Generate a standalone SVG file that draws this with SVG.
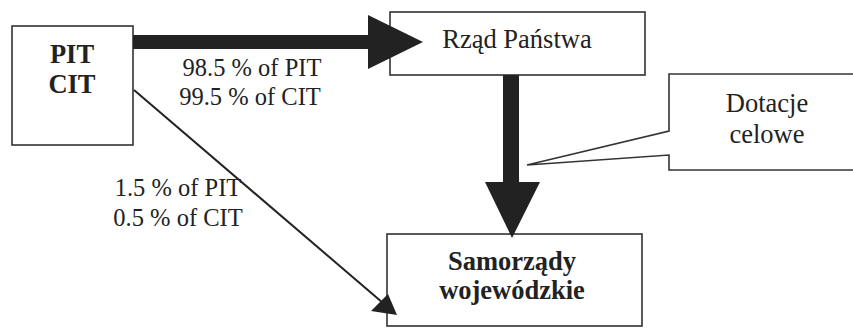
<svg xmlns="http://www.w3.org/2000/svg" width="853" height="328" viewBox="0 0 853 328">
<style>
.box{fill:#fff;stroke:#333;stroke-width:1.6}
text{font-family:'Liberation Serif','Times New Roman',serif;fill:#222;text-anchor:middle}
.n{font-size:26.5px}
.b{font-weight:bold;font-size:26.5px}
.l{font-size:24.5px}
.arr{fill:#222}
</style>
<rect width="853" height="328" fill="#fff"/>
<g id="pitcit">
<rect class="box" x="12" y="26" width="121" height="119"/>
<text class="b" x="72" y="63">PIT</text>
<text class="b" x="72" y="93">CIT</text>
</g>
<g id="rzad">
<rect class="box" x="390" y="12" width="255" height="63"/>
<text class="n" x="517" y="48">Rząd Państwa</text>
</g>
<g id="samorzady">
<rect class="box" x="387" y="234" width="255" height="92"/>
<text class="b" x="512" y="270">Samorządy</text>
<text class="b" x="512" y="299">wojewódzkie</text>
</g>
<g id="dotacje">
<path d="M853 74 L669 74 L669 131 L527 165 L669 155 L669 170 L853 170" fill="#fff" stroke="#333" stroke-width="1.6"/>
<text class="n" x="767" y="112">Dotacje</text>
<text class="n" x="767" y="143">celowe</text>
</g>
<g id="connectors">
<polygon class="arr" points="133,35 368,35 368,15 423,42 368,69 368,49 133,49"/>
<polygon class="arr" points="503,75 519,75 519,182 540,182 512,238 485,182 503,182"/>
<line x1="134" y1="90" x2="383" y2="303" stroke="#222" stroke-width="2"/>
<polygon class="arr" points="397,315 371,311 388,294"/>
<text class="l" x="252" y="76">98.5 % of PIT</text>
<text class="l" x="250" y="105">99.5 % of CIT</text>
<text class="l" x="178" y="196">1.5 % of PIT</text>
<text class="l" x="178" y="226">0.5 % of CIT</text>
</g>
</svg>
